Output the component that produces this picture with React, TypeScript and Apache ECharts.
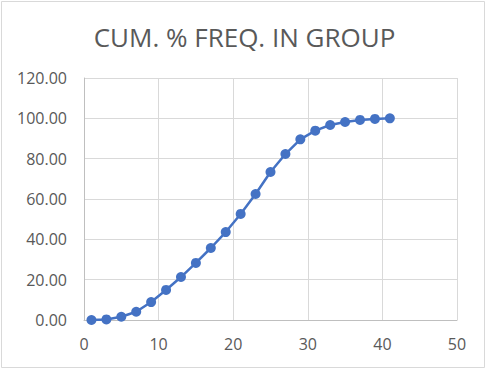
import React, { useEffect, useRef } from "react";
import * as echarts from "echarts";

const xValues = [1, 3, 5, 7, 9, 11, 13, 15, 17, 19, 21, 23, 25, 27, 29, 31, 33, 35, 37, 39, 41];
const yValues = [0, 0.3, 1.6, 4.1, 8.9, 14.9, 21.3, 28.3, 35.7, 43.6, 52.6, 62.5, 73.4, 82.3, 89.6, 93.9, 96.7, 98.2, 99.2, 99.7, 100];
const titleText = "CUM. % FREQ. IN GROUP";

export default function App() {
  const ref = useRef<HTMLDivElement>(null);
  useEffect(() => {
    if (!ref.current) return;
    const chart = echarts.init(ref.current, null, { renderer: "svg" });
    const font = "'Open Sans', 'Noto Sans', sans-serif";
    chart.setOption({
      animation: false,
      backgroundColor: "#ffffff",
      title: {
        text: titleText,
        left: "center",
        top: 19,
        textStyle: { fontFamily: font, fontSize: 26, fontWeight: "normal", color: "#595959" },
      },
      graphic: [
        {
          type: "rect",
          shape: { x: 1.5, y: 1.5, width: 483, height: 366 },
          style: { fill: "none", stroke: "#d9d9d9", lineWidth: 1 },
          silent: true,
        },
      ],
      grid: { left: 84, right: 32, top: 78, bottom: 50 },
      xAxis: {
        type: "value",
        min: 0,
        max: 50,
        interval: 10,
        axisLine: { show: true, lineStyle: { color: "#bfbfbf", width: 1 } },
        axisTick: { show: false },
        splitLine: { show: true, lineStyle: { color: "#d9d9d9", width: 1 } },
        axisLabel: { fontFamily: font, fontSize: 16, color: "#595959", margin: 16 },
      },
      yAxis: {
        type: "value",
        min: 0,
        max: 120,
        interval: 20,
        axisLine: { show: true, lineStyle: { color: "#bfbfbf", width: 1 } },
        axisTick: { show: false },
        splitLine: { show: true, lineStyle: { color: "#d9d9d9", width: 1 } },
        axisLabel: {
          fontFamily: font,
          fontSize: 16,
          color: "#595959",
          margin: 17,
          formatter: (v: number) => v.toFixed(2),
        },
      },
      series: [
        {
          type: "line",
          data: xValues.map((x, i) => [x, yValues[i]]),
          symbol: "circle",
          symbolSize: 10,
          lineStyle: { color: "#4472C4", width: 2.5 },
          itemStyle: { color: "#4472C4" },
        },
      ],
    });
    return () => chart.dispose();
  }, []);
  return (
    <div
      ref={ref}
      style={{ position: "fixed", left: 0, top: 0, width: 489, height: 370 }}
    />
  );
}
